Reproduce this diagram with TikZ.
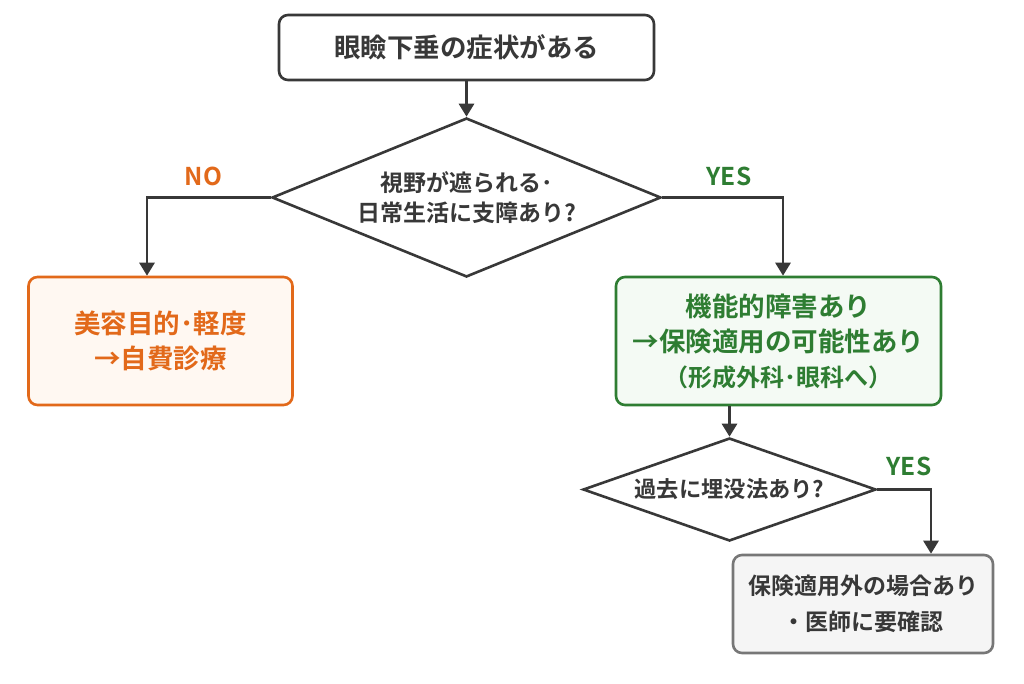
\documentclass[tikz,border=0pt]{standalone}
\usepackage{fontspec}
\setmainfont{Noto Sans CJK JP}[BoldFont={* Bold}]
\usetikzlibrary{shapes.geometric,arrows.meta}
\definecolor{ink}{HTML}{383838}
\definecolor{orangeC}{HTML}{E2691A}
\definecolor{orangeF}{HTML}{FFF8F2}
\definecolor{greenC}{HTML}{2E7D32}
\definecolor{greenF}{HTML}{F4FAF4}
\definecolor{grayC}{HTML}{777777}
\definecolor{grayF}{HTML}{F5F5F5}
\tikzset{
  box/.style={draw=ink, line width=2.6pt, rounded corners=9pt, fill=white, text=ink,
    align=center, inner sep=0pt, font=\bfseries\fontsize{26.5}{35}\selectfont},
  dia/.style={diamond, draw=ink, line width=2.6pt, fill=white, text=ink, align=center,
    inner sep=0pt, font=\bfseries\fontsize{23}{30}\selectfont},
  arr/.style={draw=ink, line width=2.8pt, -{Triangle[width=15pt,length=13pt]}},
  lbl/.style={font=\bfseries\fontsize{24.5}{26}\selectfont}
}
\begin{document}
\begin{tikzpicture}[x=1pt,y=-1pt]
\useasboundingbox[fill=white] (0,0) rectangle (1024,683);
\node[box, minimum width=375pt, minimum height=65pt] (top) at (466.5,47.5) {眼瞼下垂の症状がある};
\node[dia, minimum width=389pt, minimum height=159pt, shape aspect=2.45] (d1) at (466.5,197.5) {視野が遮られる･\\日常生活に支障あり?};
\node[box, draw=orangeC, fill=orangeF, text=orangeC, minimum width=264pt, minimum height=128pt] (cost) at (160.5,341) {美容目的･軽度\\→自費診療};
\node[box, draw=greenC, fill=greenF, text=greenC, minimum width=325pt, minimum height=128pt] (func) at (778.5,341) {機能的障害あり\\→保険適用の可能性あり\\{\fontsize{24}{35}\selectfont（形成外科･眼科へ）}};
\node[dia, minimum width=293pt, minimum height=103pt, shape aspect=2.84, font=\bfseries\fontsize{22.3}{26}\selectfont] (d2) at (729.5,489.5) {過去に埋没法あり?};
\node[box, draw=grayC, fill=grayF, minimum width=260pt, minimum height=98pt, font=\bfseries\fontsize{23}{36}\selectfont] (chk) at (863,604) {保険適用外の場合あり\\・医師に要確認};
\draw[arr] (top) -- (d1);
\draw[arr] (d1.west) -| ([xshift=-13.5pt]cost.north);
\draw[arr] (d1.east) -| ([xshift=4.5pt]func.north);
\draw[arr] (func.south -| d2.north) -- (d2.north);
\draw[arr] (d2.east) -| ([xshift=68pt]chk.north);
\node[lbl, text=orangeC] (no) at (203.5,176) {NO};
\node[lbl, text=greenC] (yes1) at (729,176) {YES};
\node[lbl, text=greenC] (yes2) at (909,466) {YES};
\end{tikzpicture}
\end{document}
